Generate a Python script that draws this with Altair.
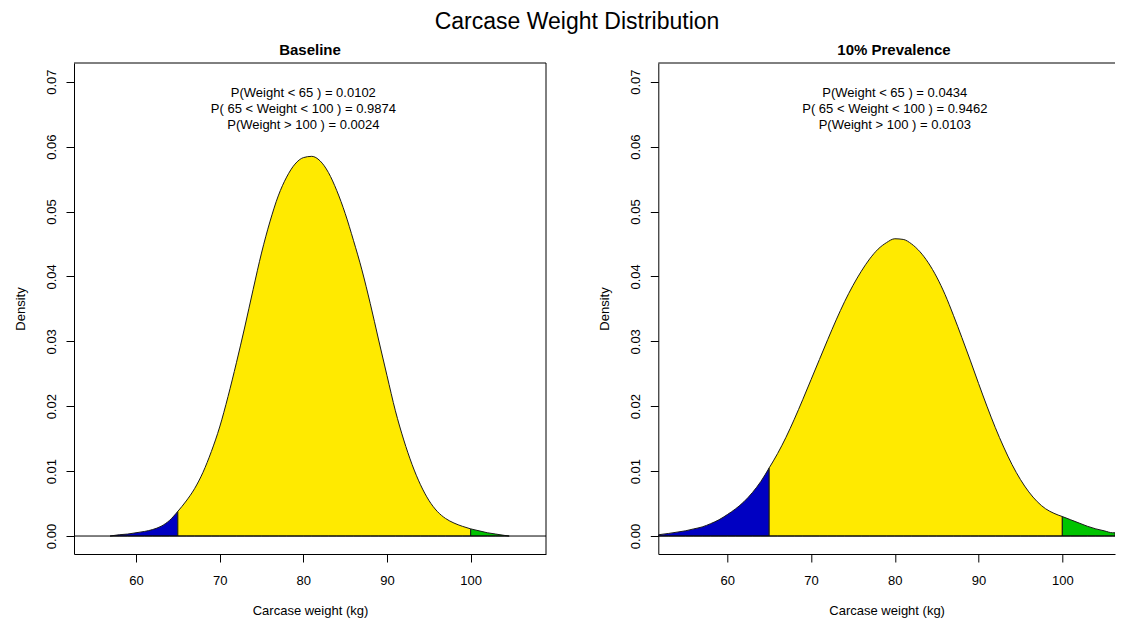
import altair as alt
import pandas as pd

# ---------------- data ----------------
MAIN_TITLE = "Carcase Weight Distribution"
panel_titles = ["Baseline", "10% Prevalence"]

# Baseline density curve (kg, density)
base_x = [56.9, 58, 59, 60, 61, 62, 63, 64, 65, 66, 67, 68, 69, 70, 71, 72, 73,
          74, 75, 76, 77, 78, 79, 80, 81, 82, 83, 84, 85, 86, 87, 88, 89, 90,
          91, 92, 93, 94, 95, 96, 97, 98, 99, 100, 101, 102, 103, 104, 104.6]
base_d = [0.0000, 0.0002, 0.0003, 0.0005, 0.0007, 0.0010, 0.0015, 0.0024, 0.0038,
          0.0054, 0.0073, 0.0098, 0.0130, 0.0168, 0.0215, 0.0267, 0.0322, 0.0380,
          0.0436, 0.0484, 0.0524, 0.0553, 0.0573, 0.0583, 0.0585, 0.0578, 0.0560,
          0.0532, 0.0497, 0.0455, 0.0410, 0.0358, 0.0302, 0.0247, 0.0193, 0.0148,
          0.0110, 0.0079, 0.0055, 0.0038, 0.0027, 0.0020, 0.0015, 0.0011, 0.0008,
          0.0005, 0.0003, 0.0001, 0.0000]

# 10% prevalence density curve (kg, density)
prev_x = [51.8, 53, 54, 55, 56, 57, 58, 59, 60, 61, 62, 63, 64, 65, 66, 67, 68,
          69, 70, 71, 72, 73, 74, 75, 76, 77, 78, 79, 80, 81, 82, 83, 84, 85, 86,
          87, 88, 89, 90, 91, 92, 93, 94, 95, 96, 97, 98, 99, 100, 101, 102, 103,
          104, 105, 106, 106.3]
prev_d = [0.0002, 0.0004, 0.0006, 0.0008, 0.0011, 0.0014, 0.0019, 0.0025, 0.0033,
          0.0042, 0.0053, 0.0067, 0.0084, 0.0105, 0.0127, 0.0152, 0.0180, 0.0210,
          0.0241, 0.0272, 0.0303, 0.0333, 0.0361, 0.0386, 0.0408, 0.0427, 0.0442,
          0.0452, 0.0458, 0.0457, 0.0450, 0.0438, 0.0421, 0.0399, 0.0372, 0.0340,
          0.0306, 0.0271, 0.0235, 0.0200, 0.0167, 0.0137, 0.0110, 0.0087, 0.0068,
          0.0053, 0.0042, 0.0035, 0.0030, 0.0025, 0.0020, 0.0015, 0.0011, 0.0008,
          0.0005, 0.0005]

base_probs = ["P(Weight < 65 ) = 0.0102",
              "P( 65 < Weight < 100 ) = 0.9874",
              "P(Weight > 100 ) = 0.0024"]
prev_probs = ["P(Weight < 65 ) = 0.0434",
              "P( 65 < Weight < 100 ) = 0.9462",
              "P(Weight > 100 ) = 0.0103"]

x_ticks = [60, 70, 80, 90, 100]
y_ticks = [0.00, 0.01, 0.02, 0.03, 0.04, 0.05, 0.06, 0.07]
cut_low, cut_high = 65, 100
label_x = 80
region_names = ["below", "between", "above"]
region_colors = ["#0000C2", "#FFEA00", "#00C400"]

# ---------------- styling / layout ----------------
FONT = "Liberation Sans"
H = 491
W_LEFT, W_RIGHT = 472, 456.7
GAP = 112.3
YDOM = [-0.00277, 0.07288]
XDOM_BASE = [52.59, 109.0]
XDOM_PREV = [51.76, 106.29]


def region_frame(xs, ds):
    rows = []
    for x, d in zip(xs, ds):
        if x <= cut_low:
            rows.append({"x": x, "d": d, "region": "below"})
        if cut_low <= x <= cut_high:
            rows.append({"x": x, "d": d, "region": "between"})
        if x >= cut_high:
            rows.append({"x": x, "d": d, "region": "above"})
    return pd.DataFrame(rows)


one = pd.DataFrame({"a": [0]})


def panel(xs, ds, probs, title, xdom, width, title_x, right_edge, extra=None):
    df = region_frame(xs, ds)
    xscale = alt.Scale(domain=xdom, nice=False, zero=False)
    yscale = alt.Scale(domain=YDOM, nice=False, zero=False)

    area = alt.Chart(df).mark_area(
        stroke="#1a1a1a", strokeWidth=1, interpolate="monotone", fillOpacity=1,
        clip=True
    ).encode(
        x=alt.X("x:Q", scale=xscale,
                axis=alt.Axis(values=x_ticks, format="d", title="Carcase weight (kg)",
                              labelPadding=22.4, labelBaseline="alphabetic",
                              labelFlush=False, labelOverlap=False,
                              titleY=60, titleBaseline="alphabetic")),
        y=alt.Y("d:Q", scale=yscale,
                axis=alt.Axis(values=y_ticks, format=".2f", title="Density",
                              labelAngle=270, labelAlign="center",
                              labelBaseline="alphabetic", labelPadding=11,
                              labelFlush=False, labelOverlap=False,
                              titleX=-50, titleY=H / 2, titleAngle=270,
                              titleBaseline="alphabetic", titleAlign="center")),
        y2=alt.datum(0),
        color=alt.Color("region:N",
                        scale=alt.Scale(domain=region_names, range=region_colors),
                        legend=None),
    )

    zero = alt.Chart(one).mark_rule(color="black", strokeWidth=1).encode(
        y=alt.datum(0))

    top_edge = alt.Chart(one).mark_rule(color="black", strokeWidth=1).encode(
        x=alt.value(0), x2=alt.value(width), y=alt.value(0))

    txt = alt.Chart(pd.DataFrame({"label": ["\n".join(probs)]})).mark_text(
        lineBreak="\n", lineHeight=16, fontSize=13, font=FONT,
        baseline="middle", align="center", color="black"
    ).encode(x=alt.datum(label_x), y=alt.value(30), text="label:N")

    ttl = alt.Chart(one).mark_text(
        fontSize=15, fontWeight="bold", font=FONT, baseline="alphabetic",
        align="center", color="black"
    ).encode(x=alt.value(title_x), y=alt.value(-7.6), text=alt.value(title))

    layers = [area, zero, top_edge, txt, ttl]
    if right_edge:
        layers.append(alt.Chart(one).mark_rule(color="black", strokeWidth=1).encode(
            x=alt.value(width), y=alt.value(0), y2=alt.value(H)))
    if extra:
        layers.extend(extra)
    return alt.layer(*layers).properties(width=width, height=H)


main_title = alt.Chart(one).mark_text(
    fontSize=23, fontWeight="normal", font=FONT, baseline="alphabetic",
    align="center", color="black"
).encode(x=alt.value(503), y=alt.value(-34), text=alt.value(MAIN_TITLE))

# invisible anchors that fix the top-left corner of the drawing
anchor_left = alt.Chart(one).mark_rule(strokeWidth=1, strokeOpacity=0, color="white").encode(
    x=alt.value(-65.5), y=alt.value(0), y2=alt.value(1))
anchor_top = alt.Chart(one).mark_rule(strokeWidth=1, strokeOpacity=0, color="white").encode(
    x=alt.value(0), x2=alt.value(1), y=alt.value(-53.8))

left = panel(base_x, base_d, base_probs, panel_titles[0], XDOM_BASE, W_LEFT,
             W_LEFT / 2, True, extra=[main_title, anchor_left, anchor_top])
right = panel(prev_x, prev_d, prev_probs, panel_titles[1], XDOM_PREV, W_RIGHT,
              235.7, False)

chart = alt.hconcat(left, right, spacing=GAP, bounds="flush").properties(
    padding={"left": 0, "top": 0, "right": 0, "bottom": 0},
).configure_view(
    stroke="transparent"
).configure_axis(
    domain=True, domainColor="black", domainWidth=1,
    grid=False, tickColor="black", tickSize=8, tickWidth=1,
    labelFont=FONT, labelFontSize=13, labelColor="black",
    titleFont=FONT, titleFontSize=13, titleFontWeight="normal", titleColor="black",
)

chart.save("out.html", embed_options={"renderer": "svg", "actions": False})
